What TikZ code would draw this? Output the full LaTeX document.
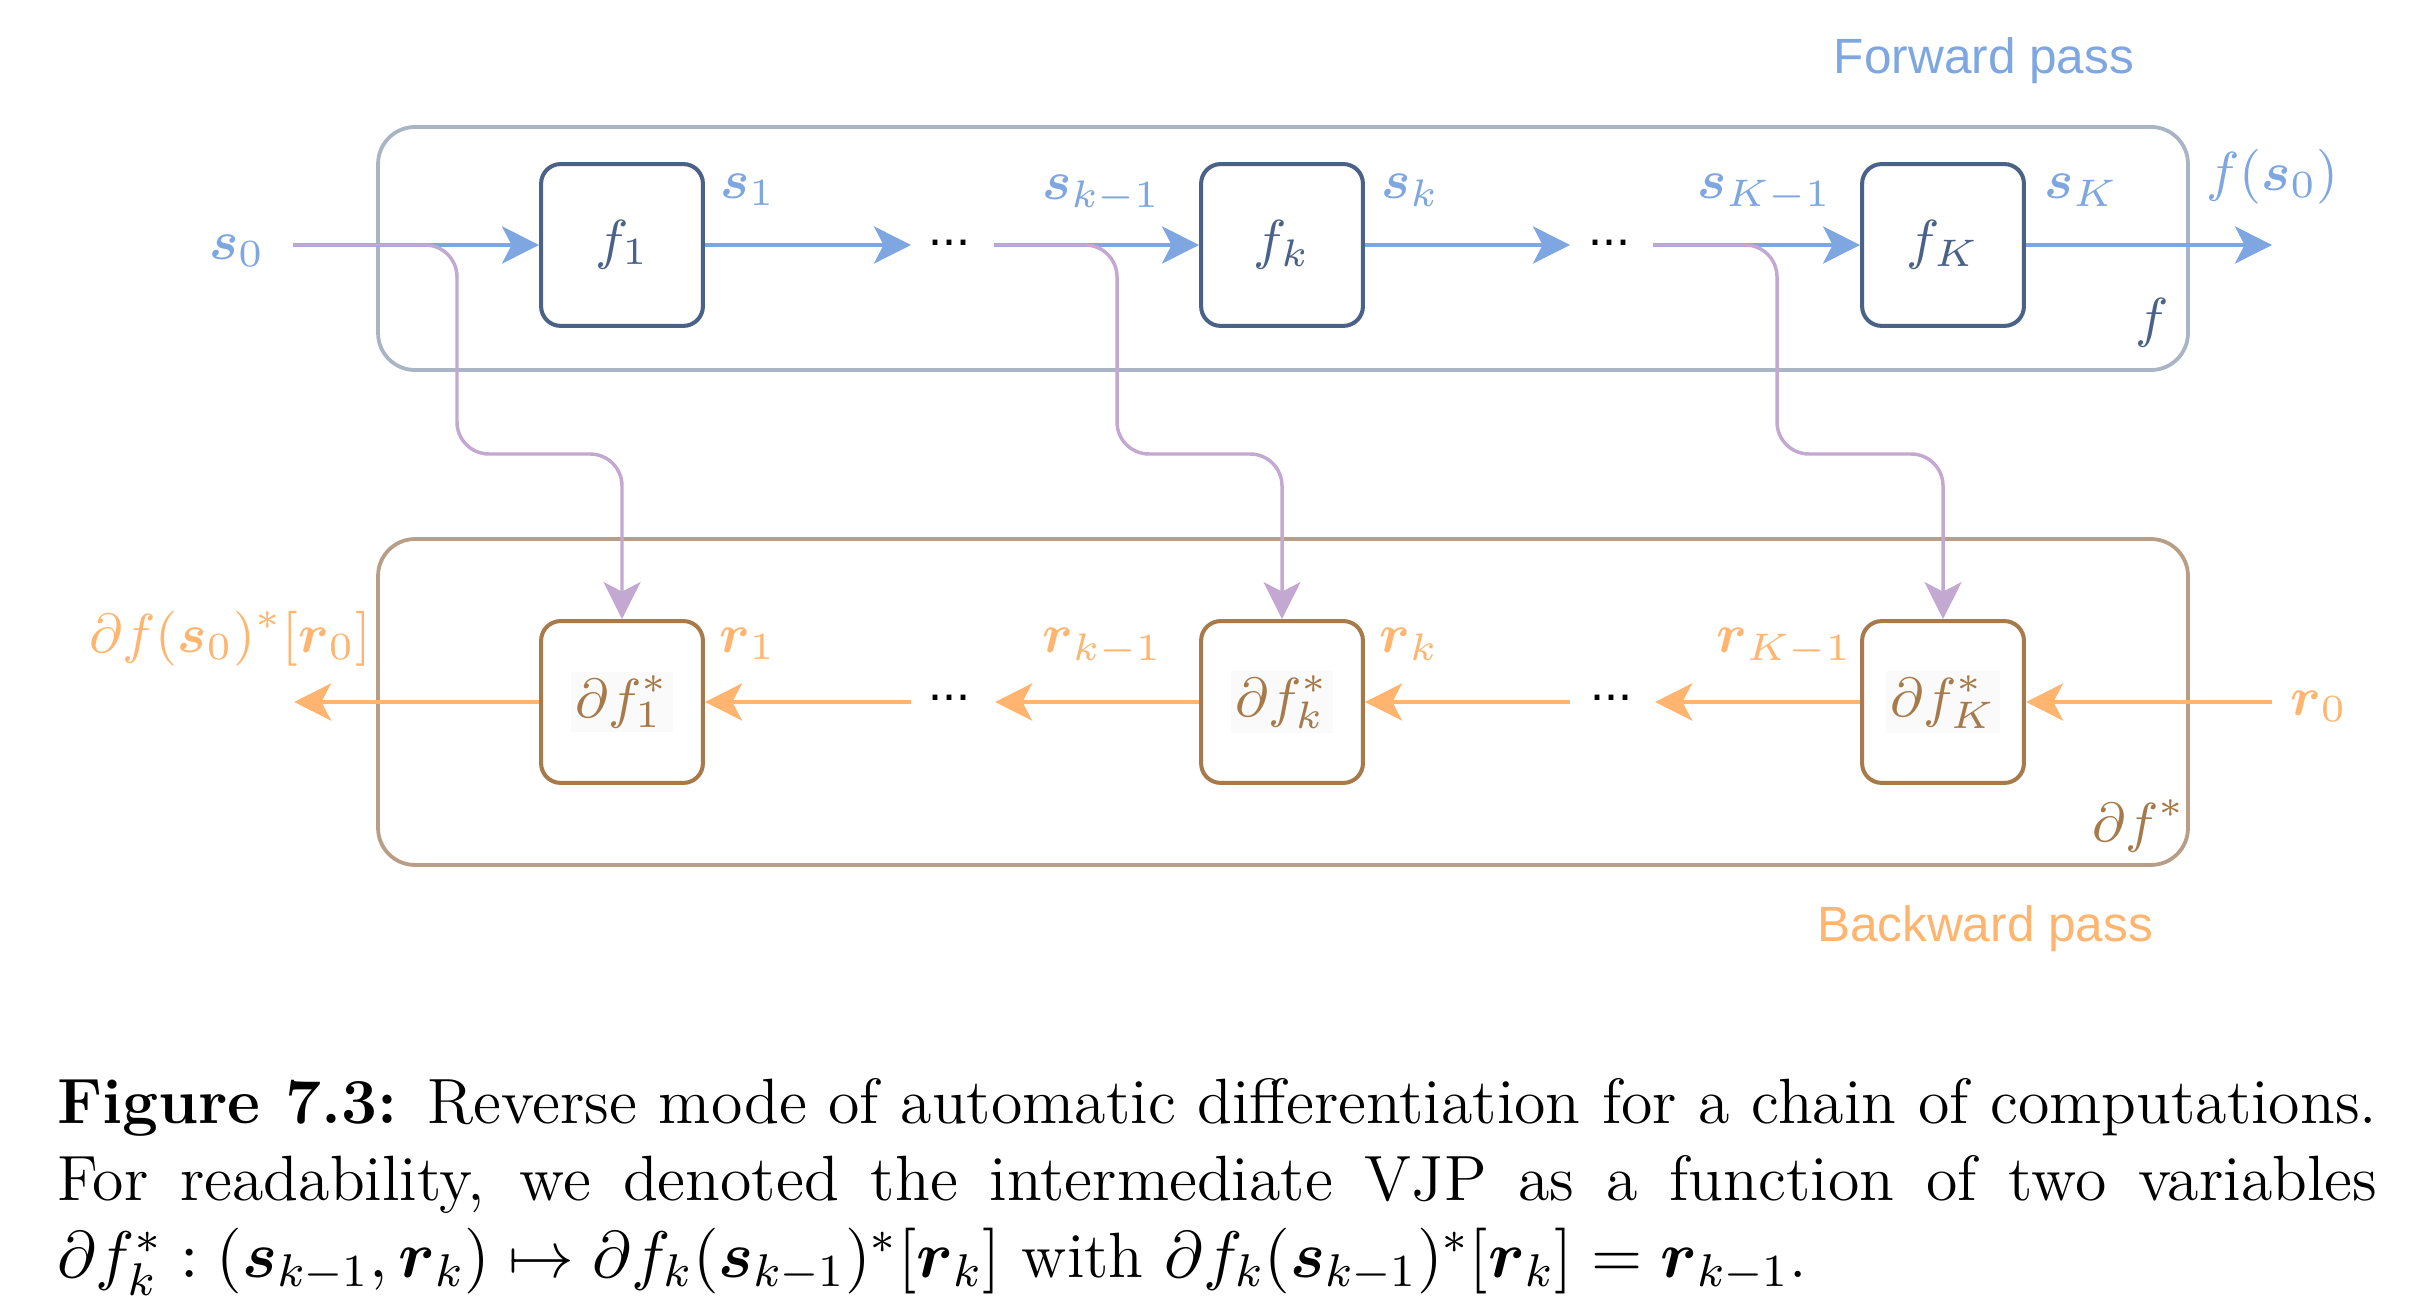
\RequirePackage{fix-cm}
\documentclass[tikz,border=0pt]{standalone}
\usepackage{amsmath}
\usepackage{fontspec}
\newfontfamily\labsans{Liberation Sans}
\usetikzlibrary{arrows.meta}
\DeclareMathSizes{11.43}{11.75}{8.2}{5.9}
\definecolor{fwdblue}{HTML}{7EA6E0}
\definecolor{fwdnode}{HTML}{4A6288}
\definecolor{fwdouter}{HTML}{A9B4C4}
\definecolor{purp}{HTML}{C3A8D1}
\definecolor{bwdor}{HTML}{FFB570}
\definecolor{bwdnode}{HTML}{A67A4A}
\definecolor{bwdouter}{HTML}{B89E86}
\definecolor{faint}{HTML}{FAFAFA}
\newcommand{\bs}[1]{\boldsymbol{#1}}
\newcommand{\fb}[1]{{\setlength{\fboxsep}{0.8pt}\colorbox{faint}{#1}}}
\begin{document}
\begin{tikzpicture}[x=0.178571pt,y=-0.178571pt,
  mfont/.style={font=\fontsize{9.8}{11.8}\selectfont},
  fnode/.style={draw=fwdnode, line width=0.72pt, rounded corners=3.5pt, minimum width=28.9pt, minimum height=28.9pt, inner sep=0pt, text=fwdnode, mfont},
  bnode/.style={draw=bwdnode, line width=0.72pt, rounded corners=3.5pt, minimum width=28.9pt, minimum height=28.9pt, inner sep=0pt, text=bwdnode, mfont},
  outerbox/.style={line width=0.68pt, rounded corners=6.6pt, inner sep=0pt, minimum width=323.2pt},
  tip/.style={-{Stealth[length=6.6pt,width=6.6pt,inset=1.7pt]}},
  fwd/.style={draw=fwdblue, line width=0.85pt, tip},
  bwd/.style={draw=bwdor, line width=0.85pt, tip},
  jump/.style={draw=purp, line width=0.62pt, rounded corners=5.7pt, tip},
  slab/.style={text=fwdblue, inner sep=0pt, mfont},
  rlab/.style={text=bwdor, inner sep=0pt, mfont},
  dotlab/.style={inner sep=0pt, font=\labsans\fontsize{9}{11}\selectfont, anchor=base},
  passlab/.style={inner sep=0pt, font=\labsans\fontsize{8.85}{10.5}\selectfont, anchor=base}
]
\useasboundingbox (0,0) rectangle (2415,1312);

% outer boxes
\node[outerbox, draw=fwdouter, minimum height=43.4pt] (F) at (1283,248.5) {};
\node[outerbox, draw=bwdouter, minimum height=58.2pt] (B) at (1283,702) {};

% forward nodes
\node[fnode] (f1) at (622,245) {$f_1$};
\node[fnode] (fk) at (1282,245) {$f_k$};
\node[fnode] (fK) at (1943,245) {$f_K$};
% backward nodes
\node[bnode] (b1) at (622,702) {\fb{$\partial f_1^*$}};
\node[bnode] (bk) at (1282,702) {\fb{$\partial f_k^*$}};
\node[bnode] (bK) at (1943,702) {\fb{$\partial f_K^*$}};

% free ends
\coordinate (s0in) at (293,245);
\coordinate (fa1) at (911,245);
\coordinate (fa2) at (994,245);
\coordinate (fa3) at (1570,245);
\coordinate (fa4) at (1653,245);
\coordinate (fout) at (2272,245);
\coordinate (r0in) at (2272,702);
\coordinate (ba4) at (1655,702);
\coordinate (ba3) at (1570,702);
\coordinate (ba2) at (995,702);
\coordinate (ba1) at (911,702);
\coordinate (bout) at (294,702);
\coordinate (p1) at (457,454);
\coordinate (pk) at (1117,454);
\coordinate (pK) at (1777,454);

% dots
\node[dotlab] (d1) at (949,246) {...};
\node[dotlab] (d2) at (1609,246) {...};
\node[dotlab] (d3) at (949,701) {...};
\node[dotlab] (d4) at (1611,701) {...};

% forward arrows
\draw[fwd] (s0in) -- (f1.west);
\draw[fwd] (f1.east) -- (fa1);
\draw[fwd] (fa2) -- (fk.west);
\draw[fwd] (fk.east) -- (fa3);
\draw[fwd] (fa4) -- (fK.west);
\draw[fwd] (fK.east) -- (fout);
% backward arrows
\draw[bwd] (r0in) -- (bK.east);
\draw[bwd] (bK.west) -- (ba4);
\draw[bwd] (ba3) -- (bk.east);
\draw[bwd] (bk.west) -- (ba2);
\draw[bwd] (ba1) -- (b1.east);
\draw[bwd] (b1.west) -- (bout);
% purple links
\draw[jump] (s0in) -| (p1) -| (b1.north);
\draw[jump] (fa2) -| (pk) -| (bk.north);
\draw[jump] (fa4) -| (pK) -| (bK.north);

% forward labels
\node[slab, anchor=base west] (ls0) at (208,260) {$\bs{s}_0$};
\node[slab, anchor=base west] (ls1) at (719,199) {$\bs{s}_1$};
\node[slab, anchor=base west] (lskm) at (1041,200) {$\bs{s}_{k-1}$};
\node[slab, anchor=base west] (lsk) at (1380,199) {$\bs{s}_k$};
\node[slab, anchor=base west] (lsKm) at (1696,199) {$\bs{s}_{K-1}$};
\node[slab, anchor=base west] (lsK) at (2043,199) {$\bs{s}_K$};
\node[slab, anchor=base west] (lfs) at (2205,191) {$f(\bs{s}_0)$};
\node[inner sep=0pt, text=fwdnode, mfont, anchor=base west] (lf) at (2134,337) {$f$};
\node[passlab, text=fwdblue] (fp) at (1984,74) {Forward pass};

% backward labels
\node[rlab, anchor=base east] (lout) at (372,653) {$\partial f(\bs{s}_0)^*[\bs{r}_0]$};
\node[rlab, anchor=base west] (lr1) at (718,653) {$\bs{r}_1$};
\node[rlab, anchor=base west] (lrkm) at (1041,653) {$\bs{r}_{k-1}$};
\node[rlab, anchor=base west] (lrk) at (1378,653) {$\bs{r}_k$};
\node[rlab, anchor=base west] (lrKm) at (1715,653) {$\bs{r}_{K-1}$};
\node[rlab, anchor=base west] (lr0) at (2289,715) {$\bs{r}_0$};
\node[inner sep=0pt, text=bwdnode, mfont, anchor=base west] (ldf) at (2091,841) {$\partial f^*$};
\node[passlab, text=bwdor] (bp) at (1985,941) {Backward pass};

% caption
\node[inner sep=0pt, anchor=base west] (cap) at (56,1123) {\parbox[t]{414.3pt}{\fontsize{11.43}{13.75}\selectfont
\textbf{Figure 7.3:} Reverse mode of automatic differentiation for a chain of computations.\linebreak
For readability, we denoted the intermediate VJP as a function of two variables\linebreak
$\partial f_k^* : (\bs{s}_{k-1}, \bs{r}_k) \mapsto \partial f_k(\bs{s}_{k-1})^*[\bs{r}_k]$ with $\partial f_k(\bs{s}_{k-1})^*[\bs{r}_k] = \bs{r}_{k-1}$.}};
\end{tikzpicture}
\end{document}
